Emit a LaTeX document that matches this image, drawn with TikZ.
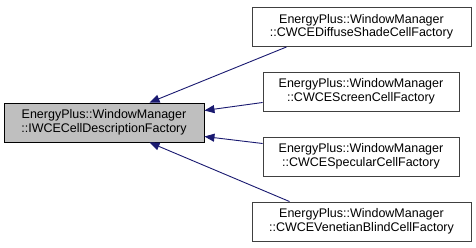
\documentclass[tikz,border=0pt]{standalone}
\usepackage{fontspec}
\setmainfont{Liberation Sans}
\usetikzlibrary{arrows.meta,calc}
\definecolor{edgeblue}{HTML}{191970}
\definecolor{basegray}{HTML}{BFBFBF}

\tikzset{
	cls/.style={draw=black!75, fill=white, line width=0.9pt, align=center, inner sep=0pt,
		minimum width=#1, minimum height=39pt, font=\fontsize{12.5}{13.5}\selectfont},
	basecls/.style={cls=200pt, draw=black, fill=basegray},
	inherit/.style={edgeblue, line width=0.9pt, {Triangle[length=10pt,width=8pt]}-},
}

\begin{document}
\begin{tikzpicture}[x=1pt, y=-1pt]
	\useasboundingbox (0, 0) rectangle (476, 248);

	%%%%% classes %%%%%
	\node[basecls] (base) at (104, 122.5) {EnergyPlus::WindowManager\\::IWCECellDescriptionFactory};

	\node[cls=219pt] (diffuse) at (361.5, 27) {EnergyPlus::WindowManager\\::CWCEDiffuseShadeCellFactory};
	\node[cls=196pt] (screen) at (361, 91.5) {EnergyPlus::WindowManager\\::CWCEScreenCellFactory};
	\node[cls=196pt] (specular) at (361, 156.5) {EnergyPlus::WindowManager\\::CWCESpecularCellFactory};
	\node[cls=219pt] (venetian) at (361.5, 221.5) {EnergyPlus::WindowManager\\::CWCEVenetianBlindCellFactory};

	%%%%% inheritance %%%%%
	\draw[inherit] ($(base.north west)+(146, 0)$) -- ($(diffuse.south west)+(35, 0)$);
	\draw[inherit] ($(base.east)+(0, -12)$) -- ($(screen.west)+(0, 11)$);
	\draw[inherit] ($(base.east)+(0, 14)$) -- ($(specular.west)+(0, -13)$);
	\draw[inherit] ($(base.south west)+(146, 0)$) -- ($(venetian.north west)+(38, 0)$);
\end{tikzpicture}
\end{document}
